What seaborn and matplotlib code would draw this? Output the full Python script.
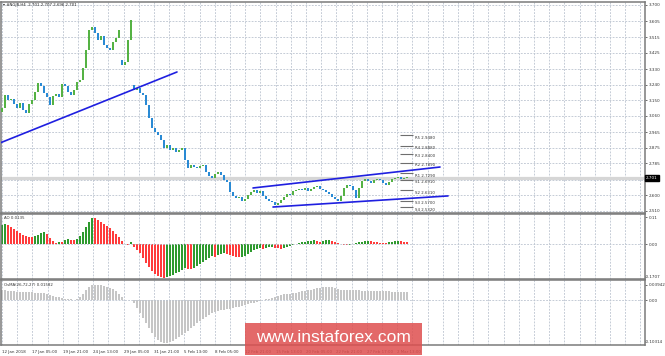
import numpy as np
import pandas as pd
import matplotlib
matplotlib.use("Agg")
import matplotlib.pyplot as plt
import matplotlib.transforms as mtrans
from matplotlib.patches import Rectangle
import seaborn as sns

sns.set_style("white")
plt.rcParams['font.family'] = ['DejaVu Sans']

# ---------------- data ----------------
closes = [3.105, 3.180, 3.151, 3.157, 3.128, 3.105, 3.134, 3.093, 3.076, 3.128,
          3.151, 3.197, 3.249, 3.232, 3.192, 3.169, 3.122, 3.174, 3.186, 3.169,
          3.244, 3.232, 3.197, 3.180, 3.209, 3.255, 3.267, 3.336, 3.440, 3.556,
          3.573, 3.538, 3.498, 3.521, 3.469, 3.452, 3.440, 3.486, 3.509, 3.556,
          3.353, 3.371, 3.498, 3.613, 3.209, 3.221, 3.192, 3.180, 3.122, 3.047,
          2.989, 2.966, 2.949, 2.920, 2.874, 2.891, 2.862, 2.874, 2.851, 2.862,
          2.874, 2.805, 2.758, 2.776, 2.764, 2.758, 2.770, 2.776, 2.735, 2.712,
          2.701, 2.724, 2.735, 2.718, 2.689, 2.677, 2.620, 2.597, 2.585, 2.591,
          2.568, 2.579, 2.602, 2.620, 2.631, 2.614, 2.625, 2.597, 2.579, 2.568,
          2.562, 2.545, 2.556, 2.573, 2.591, 2.608, 2.602, 2.625, 2.631, 2.637,
          2.631, 2.643, 2.625, 2.637, 2.649, 2.654, 2.637, 2.631, 2.620, 2.608,
          2.591, 2.579, 2.568, 2.597, 2.643, 2.660, 2.654, 2.631, 2.585, 2.643,
          2.683, 2.695, 2.683, 2.672, 2.689, 2.695, 2.689, 2.672, 2.660, 2.677,
          2.695, 2.701, 2.706, 2.695, 2.701, 2.701]
open_overrides = {0: 3.080, 40: 3.380, 44: 3.235}

ao_values = [0.078, 0.082, 0.078, 0.069, 0.061, 0.053, 0.045, 0.037, 0.033, 0.029,
             0.028, 0.033, 0.037, 0.045, 0.049, 0.041, 0.024, 0.012, 0.004, 0.008,
             0.007, 0.016, 0.020, 0.017, 0.016, 0.019, 0.033, 0.049, 0.069, 0.090,
             0.106, 0.105, 0.098, 0.090, 0.082, 0.073, 0.065, 0.053, 0.041, 0.029,
             0.012, 0.000, -0.004, 0.008, -0.012, -0.024, -0.037, -0.057, -0.078, -0.094,
             -0.110, -0.122, -0.131, -0.135, -0.139, -0.135, -0.131, -0.127, -0.118, -0.114,
             -0.106, -0.098, -0.100, -0.102, -0.098, -0.090, -0.082, -0.073, -0.065, -0.057,
             -0.049, -0.053, -0.045, -0.041, -0.037, -0.041, -0.045, -0.049, -0.053, -0.055,
             -0.053, -0.049, -0.041, -0.033, -0.024, -0.020, -0.016, -0.020, -0.016, -0.012,
             -0.011, -0.016, -0.018, -0.020, -0.016, -0.012, -0.008, -0.004, 0.000, 0.004,
             0.008, 0.010, 0.012, 0.014, 0.016, 0.012, 0.010, 0.012, 0.016, 0.018,
             0.012, 0.008, 0.004, 0.000, -0.004, -0.006, -0.004, 0.000, 0.004, 0.008,
             0.010, 0.012, 0.014, 0.012, 0.010, 0.008, 0.006, 0.004, 0.003, 0.008,
             0.010, 0.012, 0.014, 0.012, 0.010, 0.008]

osma_values = [0.0263, 0.0263, 0.0250, 0.0237, 0.0224, 0.0211, 0.0211, 0.0211, 0.0211, 0.0211,
               0.0211, 0.0197, 0.0197, 0.0184, 0.0184, 0.0158, 0.0132, 0.0105, 0.0079, 0.0066,
               0.0053, 0.0039, 0.0026, 0.0026, 0.0013, 0.0026, 0.0079, 0.0158, 0.0263, 0.0342,
               0.0382, 0.0395, 0.0395, 0.0382, 0.0368, 0.0342, 0.0316, 0.0289, 0.0237, 0.0158,
               0.0079, 0.0013, 0.0, 0.0, -0.0079, -0.0211, -0.0342, -0.0474, -0.0605, -0.0737,
               -0.0868, -0.0974, -0.1053, -0.1105, -0.1132, -0.1132, -0.1105, -0.1079, -0.1026, -0.0974,
               -0.0921, -0.0868, -0.0816, -0.0737, -0.0684, -0.0605, -0.0553, -0.0500, -0.0447, -0.0395,
               -0.0342, -0.0316, -0.0289, -0.0263, -0.0263, -0.0237, -0.0237, -0.0211, -0.0197, -0.0184,
               -0.0158, -0.0132, -0.0105, -0.0092, -0.0079, -0.0053, -0.0026, 0.0, 0.0026, 0.0039,
               0.0053, 0.0079, 0.0105, 0.0132, 0.0145, 0.0158, 0.0171, 0.0184, 0.0197, 0.0211,
               0.0237, 0.0250, 0.0263, 0.0276, 0.0289, 0.0303, 0.0316, 0.0329, 0.0342, 0.0342,
               0.0342, 0.0316, 0.0289, 0.0263, 0.0263, 0.0263, 0.0263, 0.0263, 0.0263, 0.0263,
               0.0250, 0.0250, 0.0250, 0.0237, 0.0237, 0.0237, 0.0237, 0.0224, 0.0224, 0.0224,
               0.0211, 0.0211, 0.0211, 0.0211, 0.0211, 0.0211]

price_ticks = [3.700, 3.605, 3.515, 3.425, 3.330, 3.240, 3.150, 3.060,
               2.965, 2.875, 2.785, 2.690, 2.600, 2.510]
pivot_names = ['R5', 'R4', 'R3', 'R2', 'R1', 'S1', 'S2', 'S3', 'S4']
pivot_levels = [2.9480, 2.8880, 2.8400, 2.7890, 2.7290, 2.6910, 2.6310, 2.5700, 2.5320]
date_labels = ['12 Jan 2018', '17 Jan 05:00', '19 Jan 21:00', '24 Jan 13:00',
               '29 Jan 05:00', '31 Jan 21:00', '5 Feb 13:00', '8 Feb 05:00',
               '12 Feb 21:00', '15 Feb 13:00', '20 Feb 05:00', '22 Feb 21:00',
               '27 Feb 17:00', '2 Mar 13:00']
trend_main_x, trend_main_y = [-0.667, 58.33], [2.903, 3.313]
chan_up_x, chan_up_y = [83.67, 146.0], [2.643, 2.764]
chan_lo_x, chan_lo_y = [90.33, 148.67], [2.533, 2.597]
last_price = 2.701
header = '\u25BE #NGJ8,H4  2.701 2.707 2.696 2.701'
ao_label = 'AO 0.0135'
osma_label = 'OsMA(26,72,27) 0.01582'
ao_axis_labels = ['0.11', '0.00', '-0.1707']
osma_axis_labels = ['0.03942', '0.00', '-0.10314']
watermark = 'www.instaforex.com'

# ---------------- layout ----------------
W, H = 665, 356
fig = plt.figure(figsize=(W / 100, H / 100), dpi=100)
fig.patch.set_facecolor('white')


def ax_px(x0, y0, x1, y1):
    return fig.add_axes([x0 / W, 1 - y1 / H, (x1 - x0) / W, (y1 - y0) / H])


ax_main = ax_px(1, 2, 645, 213)
ax_ao = ax_px(1, 214, 645, 279)
ax_os = ax_px(1, 280, 645, 345)

n = len(closes)
idx = np.arange(n)
opens = [open_overrides.get(i, closes[i - 1] if i > 0 else closes[0]) for i in range(n)]
xlim = (-1 / 3, 643 / 3)
grid_x = np.arange(0, 215, 15.2 / 3)
grid_kw = dict(color='#bcc4d0', linestyle=(0, (2.2, 1.6)), linewidth=0.6)

# ---------------- main price panel ----------------
ax_main.axhline(last_price, color='#d6d6d6', lw=2.3, zorder=1)
body = np.array(closes) - np.array(opens)
body = np.where(np.abs(body) < 0.004, np.where(body >= 0, 0.004, -0.004), body)
cols = ['#55b244' if c >= o else '#2a8ad4' for o, c in zip(opens, closes)]
ax_main.bar(idx, body, bottom=opens, width=0.62, color=cols, linewidth=0, zorder=3)

sns.lineplot(x=trend_main_x, y=trend_main_y, ax=ax_main, color='#1f1fe0', lw=1.2, zorder=4)
sns.lineplot(x=chan_up_x, y=chan_up_y, ax=ax_main, color='#1f1fe0', lw=1.2, zorder=4)
sns.lineplot(x=chan_lo_x, y=chan_lo_y, ax=ax_main, color='#1f1fe0', lw=1.2, zorder=4)

ax_main.hlines(pivot_levels, 132.7, 137.0, color='#6e6e6e', lw=0.8, zorder=4)
for name, lev in zip(pivot_names, pivot_levels):
    ax_main.text(137.8, lev - 0.003, f'{name} {lev:.4f}', fontsize=2.8,
                 color='#333333', va='top', ha='left', zorder=5)

ax_main.set_xlim(*xlim)
ax_main.set_ylim(3.700 - 208 * 0.005777, 3.700 + 3 * 0.005777)
ax_main.set_yticks(price_ticks)
# the 2.690 label is hidden under the current-price box in the reference
ax_main.set_yticklabels(['' if abs(t - 2.690) < 1e-9 else f'{t:.3f}' for t in price_ticks])
ax_main.set_xticks(grid_x)
ax_main.grid(True, **grid_kw)
ax_main.set_axisbelow(True)
ax_main.yaxis.tick_right()
ax_main.tick_params(axis='y', labelsize=3, length=1.5, pad=1.5, colors='#333333', width=0.5)
ax_main.tick_params(axis='x', length=0, labelbottom=False)
ax_main.set_xlabel('')
ax_main.set_ylabel('')
ax_main.text(1.0016, last_price, f'{last_price:.3f}', fontsize=3, color='white',
             ha='left', va='center',
             transform=mtrans.blended_transform_factory(ax_main.transAxes, ax_main.transData),
             bbox=dict(boxstyle='square,pad=0.25', fc='black', ec='black'), clip_on=False, zorder=6)
fig.text(3 / W, 1 - 5 / H, header, fontsize=2.8, color='#222222', va='center', ha='left')

# ---------------- AO panel ----------------
ao_dir = ['up'] + ['up' if ao_values[i] > ao_values[i - 1] else 'down' for i in range(1, n)]
df_ao = pd.DataFrame({'bar': idx, 'ao': ao_values, 'dir': ao_dir})
sns.barplot(data=df_ao, x='bar', y='ao', hue='dir', palette={'up': '#2e9a2e', 'down': '#ff3b3b'},
            native_scale=True, dodge=False, width=0.6, errorbar=None, saturation=1,
            legend=False, linewidth=0, ax=ax_ao)
ax_ao.axhline(0, **grid_kw)
ax_ao.set_xlim(*xlim)
ax_ao.set_ylim(-(279 - 244) / 245, (244 - 214) / 245)
ax_ao.set_xticks(grid_x)
ax_ao.grid(True, axis='x', **grid_kw)
ax_ao.set_axisbelow(True)
ax_ao.yaxis.tick_right()
ax_ao.set_yticks([0.11, 0.0])
ax_ao.set_yticklabels(ao_axis_labels[:2])
ax_ao.tick_params(axis='y', labelsize=3, length=1.5, pad=1.5, colors='#333333', width=0.5)
ax_ao.tick_params(axis='x', length=0, labelbottom=False)
ax_ao.text(1.0, (279 - 277) / 65, ao_axis_labels[2], transform=ax_ao.transAxes, fontsize=3,
           color='#333333', ha='left', va='center', clip_on=False)
ax_ao.set_xlabel('')
ax_ao.set_ylabel('')
ax_ao.text(3 / 644, 1 - 4 / 65, ao_label, transform=ax_ao.transAxes, fontsize=2.8,
           color='#333333', ha='left', va='center')

# ---------------- OsMA panel ----------------
df_os = pd.DataFrame({'bar': idx, 'osma': osma_values})
sns.barplot(data=df_os, x='bar', y='osma', color='#c6c6c6', native_scale=True, width=0.6,
            errorbar=None, saturation=1, linewidth=0, ax=ax_os)
ax_os.axhline(0, **grid_kw)
ax_os.set_xlim(*xlim)
ax_os.set_ylim(-(345 - 300) / 380, (300 - 280) / 380)
ax_os.set_xticks(grid_x)
ax_os.set_xticklabels([date_labels[k // 2] if k % 2 == 0 and k // 2 < len(date_labels) else ''
                       for k in range(len(grid_x))])
for lab in ax_os.get_xticklabels():
    lab.set_ha('left')
ax_os.grid(True, axis='x', **grid_kw)
ax_os.set_axisbelow(True)
ax_os.yaxis.tick_right()
ax_os.set_yticks([0.0395, 0.0])
ax_os.set_yticklabels(osma_axis_labels[:2])
ax_os.tick_params(axis='y', labelsize=3, length=1.5, pad=1.5, colors='#333333', width=0.5)
ax_os.tick_params(axis='x', labelsize=2.9, length=0, pad=3.5, colors='#333333')
ax_os.text(1.0, (345 - 342) / 65, osma_axis_labels[2], transform=ax_os.transAxes, fontsize=3,
           color='#333333', ha='left', va='center', clip_on=False)
ax_os.set_xlabel('')
ax_os.set_ylabel('')
ax_os.text(3 / 644, 1 - 5 / 65, osma_label, transform=ax_os.transAxes, fontsize=2.8,
           color='#333333', ha='left', va='center')

for ax in (ax_main, ax_ao, ax_os):
    for sp in ax.spines.values():
        sp.set_color('#7a7a7a')
        sp.set_linewidth(1.1)

# ---------------- watermark ----------------
fig.patches.append(Rectangle((245 / W, 1 - 355 / H), 177 / W, 32 / H, transform=fig.transFigure,
                             facecolor='#de4f4f', alpha=0.85, edgecolor='none', zorder=10))
fig.text(333 / W, 1 - 338 / H, watermark, fontsize=12.5, family='Liberation Sans',
         color='white', ha='center', va='center', zorder=11)

fig.savefig('out.png', dpi=100, facecolor='white')
